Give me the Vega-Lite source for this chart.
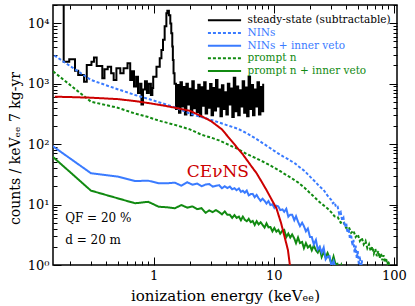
{
  "$schema": "https://vega.github.io/schema/vega-lite/v6.json",
  "width": 344,
  "height": 260,
  "autosize": {"type": "none"},
  "padding": {"left": 53, "top": 5, "right": 18, "bottom": 41},
  "config": {
    "view": {"stroke": "black", "strokeWidth": 1.5},
    "font": "DejaVu Serif",
    "legend": {"orient": "none", "legendX": 153, "legendY": 10, "direction": "vertical", "title": null,
      "symbolType": "M-1,0H9", "symbolSize": 44, "symbolStrokeWidth": 2,
      "labelFont": "DejaVu Serif", "labelFontSize": 10.5, "labelOffset": 31, "rowPadding": 1.7}
  },
  "datasets": {
    "black": [
      {"series":"steady-state (subtractable)","E":0.170,"C":100000},
      {"series":"steady-state (subtractable)","E":0.178,"C":2300},
      {"series":"steady-state (subtractable)","E":0.198,"C":2530},
      {"series":"steady-state (subtractable)","E":0.221,"C":1640},
      {"series":"steady-state (subtractable)","E":0.235,"C":1390},
      {"series":"steady-state (subtractable)","E":0.263,"C":1080},
      {"series":"steady-state (subtractable)","E":0.277,"C":2035},
      {"series":"steady-state (subtractable)","E":0.303,"C":2300},
      {"series":"steady-state (subtractable)","E":0.318,"C":2720},
      {"series":"steady-state (subtractable)","E":0.335,"C":1960},
      {"series":"steady-state (subtractable)","E":0.373,"C":1230},
      {"series":"steady-state (subtractable)","E":0.389,"C":1730},
      {"series":"steady-state (subtractable)","E":0.414,"C":1910},
      {"series":"steady-state (subtractable)","E":0.442,"C":1480},
      {"series":"steady-state (subtractable)","E":0.464,"C":1150},
      {"series":"steady-state (subtractable)","E":0.489,"C":1790},
      {"series":"steady-state (subtractable)","E":0.527,"C":1480},
      {"series":"steady-state (subtractable)","E":0.561,"C":1790},
      {"series":"steady-state (subtractable)","E":0.605,"C":2170},
      {"series":"steady-state (subtractable)","E":0.637,"C":1150},
      {"series":"steady-state (subtractable)","E":0.660,"C":1600},
      {"series":"steady-state (subtractable)","E":0.685,"C":900},
      {"series":"steady-state (subtractable)","E":0.713,"C":1300},
      {"series":"steady-state (subtractable)","E":0.740,"C":700},
      {"series":"steady-state (subtractable)","E":0.770,"C":1000},
      {"series":"steady-state (subtractable)","E":0.790,"C":450},
      {"series":"steady-state (subtractable)","E":0.814,"C":800},
      {"series":"steady-state (subtractable)","E":0.845,"C":1100},
      {"series":"steady-state (subtractable)","E":0.877,"C":700},
      {"series":"steady-state (subtractable)","E":0.910,"C":1000},
      {"series":"steady-state (subtractable)","E":0.947,"C":650},
      {"series":"steady-state (subtractable)","E":0.974,"C":850},
      {"series":"steady-state (subtractable)","E":0.990,"C":1300},
      {"series":"steady-state (subtractable)","E":1.054,"C":1900},
      {"series":"steady-state (subtractable)","E":1.122,"C":2640},
      {"series":"steady-state (subtractable)","E":1.159,"C":3600},
      {"series":"steady-state (subtractable)","E":1.195,"C":5300},
      {"series":"steady-state (subtractable)","E":1.233,"C":8900},
      {"series":"steady-state (subtractable)","E":1.274,"C":14600},
      {"series":"steady-state (subtractable)","E":1.298,"C":16100},
      {"series":"steady-state (subtractable)","E":1.338,"C":13600},
      {"series":"steady-state (subtractable)","E":1.374,"C":9900},
      {"series":"steady-state (subtractable)","E":1.400,"C":6800},
      {"series":"steady-state (subtractable)","E":1.427,"C":4100},
      {"series":"steady-state (subtractable)","E":1.443,"C":2460},
      {"series":"steady-state (subtractable)","E":1.462,"C":1480},
      {"series":"steady-state (subtractable)","E":1.490,"C":1000},
      {"series":"steady-state (subtractable)","E":1.533,"C":380},
      {"series":"steady-state (subtractable)","E":1.577,"C":950},
      {"series":"steady-state (subtractable)","E":1.623,"C":330},
      {"series":"steady-state (subtractable)","E":1.669,"C":1050},
      {"series":"steady-state (subtractable)","E":1.717,"C":420},
      {"series":"steady-state (subtractable)","E":1.767,"C":880},
      {"series":"steady-state (subtractable)","E":1.818,"C":310},
      {"series":"steady-state (subtractable)","E":1.870,"C":1000},
      {"series":"steady-state (subtractable)","E":1.924,"C":450},
      {"series":"steady-state (subtractable)","E":1.979,"C":820},
      {"series":"steady-state (subtractable)","E":2.036,"C":300},
      {"series":"steady-state (subtractable)","E":2.095,"C":1100},
      {"series":"steady-state (subtractable)","E":2.155,"C":390},
      {"series":"steady-state (subtractable)","E":2.217,"C":780},
      {"series":"steady-state (subtractable)","E":2.281,"C":340},
      {"series":"steady-state (subtractable)","E":2.347,"C":960},
      {"series":"steady-state (subtractable)","E":2.414,"C":290},
      {"series":"steady-state (subtractable)","E":2.484,"C":870},
      {"series":"steady-state (subtractable)","E":2.555,"C":430},
      {"series":"steady-state (subtractable)","E":2.629,"C":1050},
      {"series":"steady-state (subtractable)","E":2.705,"C":320},
      {"series":"steady-state (subtractable)","E":2.783,"C":760},
      {"series":"steady-state (subtractable)","E":2.863,"C":400},
      {"series":"steady-state (subtractable)","E":2.945,"C":990},
      {"series":"steady-state (subtractable)","E":3.030,"C":300},
      {"series":"steady-state (subtractable)","E":3.117,"C":850},
      {"series":"steady-state (subtractable)","E":3.207,"C":360},
      {"series":"steady-state (subtractable)","E":3.300,"C":1150},
      {"series":"steady-state (subtractable)","E":3.395,"C":420},
      {"series":"steady-state (subtractable)","E":3.492,"C":800},
      {"series":"steady-state (subtractable)","E":3.593,"C":290},
      {"series":"steady-state (subtractable)","E":3.696,"C":940},
      {"series":"steady-state (subtractable)","E":3.803,"C":380},
      {"series":"steady-state (subtractable)","E":3.912,"C":720},
      {"series":"steady-state (subtractable)","E":4.025,"C":310},
      {"series":"steady-state (subtractable)","E":4.141,"C":1000},
      {"series":"steady-state (subtractable)","E":4.260,"C":450},
      {"series":"steady-state (subtractable)","E":4.383,"C":830},
      {"series":"steady-state (subtractable)","E":4.509,"C":280},
      {"series":"steady-state (subtractable)","E":4.639,"C":1250},
      {"series":"steady-state (subtractable)","E":4.772,"C":350},
      {"series":"steady-state (subtractable)","E":4.910,"C":900},
      {"series":"steady-state (subtractable)","E":5.051,"C":300},
      {"series":"steady-state (subtractable)","E":5.197,"C":780},
      {"series":"steady-state (subtractable)","E":5.346,"C":420},
      {"series":"steady-state (subtractable)","E":5.500,"C":1100},
      {"series":"steady-state (subtractable)","E":5.659,"C":330},
      {"series":"steady-state (subtractable)","E":5.822,"C":860},
      {"series":"steady-state (subtractable)","E":5.990,"C":290},
      {"series":"steady-state (subtractable)","E":6.162,"C":1300},
      {"series":"steady-state (subtractable)","E":6.340,"C":380},
      {"series":"steady-state (subtractable)","E":6.522,"C":950},
      {"series":"steady-state (subtractable)","E":6.710,"C":300},
      {"series":"steady-state (subtractable)","E":6.903,"C":800},
      {"series":"steady-state (subtractable)","E":7.102,"C":420},
      {"series":"steady-state (subtractable)","E":7.306,"C":1050},
      {"series":"steady-state (subtractable)","E":7.517,"C":310},
      {"series":"steady-state (subtractable)","E":7.733,"C":880},
      {"series":"steady-state (subtractable)","E":7.956,"C":350},
      {"series":"steady-state (subtractable)","E":8.150,"C":1000}
    ],
    "curves": [
      {"series":"prompt n + inner veto","E":0.1,"C":118},
      {"series":"prompt n + inner veto","E":0.3,"C":17},
      {"series":"prompt n + inner veto","E":0.5,"C":12.7},
      {"series":"prompt n + inner veto","E":0.7,"C":10.5},
      {"series":"prompt n + inner veto","E":0.9,"C":11.1},
      {"series":"prompt n + inner veto","E":1.1,"C":9.2},
      {"series":"prompt n + inner veto","E":1.3,"C":9.0},
      {"series":"prompt n + inner veto","E":1.5,"C":8.7},
      {"series":"prompt n + inner veto","E":1.7,"C":9.8},
      {"series":"prompt n + inner veto","E":1.9,"C":8.9},
      {"series":"prompt n + inner veto","E":2.1,"C":9.3},
      {"series":"prompt n + inner veto","E":2.3,"C":8.4},
      {"series":"prompt n + inner veto","E":2.5,"C":8.7},
      {"series":"prompt n + inner veto","E":2.7,"C":7.3},
      {"series":"prompt n + inner veto","E":2.9,"C":8.0},
      {"series":"prompt n + inner veto","E":3.1,"C":7.5},
      {"series":"prompt n + inner veto","E":3.3,"C":8.1},
      {"series":"prompt n + inner veto","E":3.5,"C":7.5},
      {"series":"prompt n + inner veto","E":3.7,"C":6.9},
      {"series":"prompt n + inner veto","E":3.9,"C":7.7},
      {"series":"prompt n + inner veto","E":4.1,"C":6.8},
      {"series":"prompt n + inner veto","E":4.3,"C":6.8},
      {"series":"prompt n + inner veto","E":4.5,"C":6.0},
      {"series":"prompt n + inner veto","E":4.7,"C":6.7},
      {"series":"prompt n + inner veto","E":4.9,"C":6.0},
      {"series":"prompt n + inner veto","E":5.12,"C":6.3},
      {"series":"prompt n + inner veto","E":5.32,"C":5.5},
      {"series":"prompt n + inner veto","E":5.52,"C":6.3},
      {"series":"prompt n + inner veto","E":5.73,"C":5.6},
      {"series":"prompt n + inner veto","E":5.95,"C":5.3},
      {"series":"prompt n + inner veto","E":6.18,"C":5.8},
      {"series":"prompt n + inner veto","E":6.42,"C":5.1},
      {"series":"prompt n + inner veto","E":6.67,"C":5.35},
      {"series":"prompt n + inner veto","E":6.93,"C":4.6},
      {"series":"prompt n + inner veto","E":7.19,"C":5.3},
      {"series":"prompt n + inner veto","E":7.47,"C":4.7},
      {"series":"prompt n + inner veto","E":7.76,"C":5.1},
      {"series":"prompt n + inner veto","E":8.06,"C":4.6},
      {"series":"prompt n + inner veto","E":8.37,"C":4.15},
      {"series":"prompt n + inner veto","E":8.69,"C":4.9},
      {"series":"prompt n + inner veto","E":9.02,"C":4.2},
      {"series":"prompt n + inner veto","E":9.37,"C":4.25},
      {"series":"prompt n + inner veto","E":9.73,"C":3.6},
      {"series":"prompt n + inner veto","E":10.1,"C":4.1},
      {"series":"prompt n + inner veto","E":10.5,"C":3.55},
      {"series":"prompt n + inner veto","E":10.9,"C":3.8},
      {"series":"prompt n + inner veto","E":11.3,"C":3.3},
      {"series":"prompt n + inner veto","E":11.8,"C":3.7},
      {"series":"prompt n + inner veto","E":12.2,"C":3.8},
      {"series":"prompt n + inner veto","E":12.7,"C":2.9},
      {"series":"prompt n + inner veto","E":13.2,"C":3.3},
      {"series":"prompt n + inner veto","E":13.7,"C":2.85},
      {"series":"prompt n + inner veto","E":14.2,"C":3.2},
      {"series":"prompt n + inner veto","E":14.8,"C":2.75},
      {"series":"prompt n + inner veto","E":15.3,"C":2.3},
      {"series":"prompt n + inner veto","E":15.9,"C":2.85},
      {"series":"prompt n + inner veto","E":16.5,"C":2.3},
      {"series":"prompt n + inner veto","E":17.2,"C":2.4},
      {"series":"prompt n + inner veto","E":17.8,"C":1.9},
      {"series":"prompt n + inner veto","E":18.5,"C":2.3},
      {"series":"prompt n + inner veto","E":19.2,"C":1.95},
      {"series":"prompt n + inner veto","E":20.0,"C":2.1},
      {"series":"prompt n + inner veto","E":20.7,"C":1.75},
      {"series":"prompt n + inner veto","E":21.5,"C":2.1},
      {"series":"prompt n + inner veto","E":22.4,"C":1.75},
      {"series":"prompt n + inner veto","E":23.2,"C":1.6},
      {"series":"prompt n + inner veto","E":24.1,"C":1.9},
      {"series":"prompt n + inner veto","E":25.0,"C":1.36},
      {"series":"prompt n + inner veto","E":26.0,"C":1.63},
      {"series":"prompt n + inner veto","E":27.0,"C":1.34},
      {"series":"prompt n + inner veto","E":28.0,"C":1.58},
      {"series":"prompt n + inner veto","E":29.1,"C":1.3},
      {"series":"prompt n + inner veto","E":30.2,"C":1.05},
      {"series":"prompt n + inner veto","E":31.4,"C":1.38},
      {"series":"prompt n + inner veto","E":32.6,"C":1.03},
      {"series":"prompt n + inner veto","E":33.8,"C":1.05},
      {"series":"prompt n + inner veto","E":35.1,"C":0.76},
      {"series":"prompt n + inner veto","E":36.5,"C":1.0},
      {"series":"prompt n + inner veto","E":38.0,"C":0.79},
      {"series":"prompt n + inner veto","E":39.5,"C":0.88},
      {"series":"prompt n + inner veto","E":41.0,"C":0.67},
      {"series":"prompt n + inner veto","E":42.5,"C":0.85},

      {"series":"NINs + inner veto","E":0.1,"C":155},
      {"series":"NINs + inner veto","E":0.3,"C":33},
      {"series":"NINs + inner veto","E":0.5,"C":29},
      {"series":"NINs + inner veto","E":0.7,"C":24.5},
      {"series":"NINs + inner veto","E":0.9,"C":24.8},
      {"series":"NINs + inner veto","E":1.1,"C":22.5},
      {"series":"NINs + inner veto","E":1.3,"C":22.5},
      {"series":"NINs + inner veto","E":1.5,"C":23},
      {"series":"NINs + inner veto","E":1.7,"C":20.5},
      {"series":"NINs + inner veto","E":1.9,"C":23.4},
      {"series":"NINs + inner veto","E":2.1,"C":21.3},
      {"series":"NINs + inner veto","E":2.3,"C":22.2},
      {"series":"NINs + inner veto","E":2.5,"C":20.1},
      {"series":"NINs + inner veto","E":2.7,"C":21.4},
      {"series":"NINs + inner veto","E":2.9,"C":21.8},
      {"series":"NINs + inner veto","E":3.1,"C":19.8},
      {"series":"NINs + inner veto","E":3.3,"C":20.4},
      {"series":"NINs + inner veto","E":3.5,"C":20.9},
      {"series":"NINs + inner veto","E":3.7,"C":18.6},
      {"series":"NINs + inner veto","E":3.9,"C":20.1},
      {"series":"NINs + inner veto","E":4.1,"C":18.8},
      {"series":"NINs + inner veto","E":4.3,"C":19.8},
      {"series":"NINs + inner veto","E":4.5,"C":17.9},
      {"series":"NINs + inner veto","E":4.7,"C":18.6},
      {"series":"NINs + inner veto","E":4.9,"C":17.3},
      {"series":"NINs + inner veto","E":5.12,"C":18.4},
      {"series":"NINs + inner veto","E":5.32,"C":16.2},
      {"series":"NINs + inner veto","E":5.52,"C":16.9},
      {"series":"NINs + inner veto","E":5.73,"C":15.7},
      {"series":"NINs + inner veto","E":5.95,"C":17.0},
      {"series":"NINs + inner veto","E":6.18,"C":14.2},
      {"series":"NINs + inner veto","E":6.42,"C":14.9},
      {"series":"NINs + inner veto","E":6.67,"C":15.0},
      {"series":"NINs + inner veto","E":6.93,"C":13.2},
      {"series":"NINs + inner veto","E":7.19,"C":14.4},
      {"series":"NINs + inner veto","E":7.47,"C":12.7},
      {"series":"NINs + inner veto","E":7.76,"C":11.5},
      {"series":"NINs + inner veto","E":8.06,"C":12.5},
      {"series":"NINs + inner veto","E":8.37,"C":11.5},
      {"series":"NINs + inner veto","E":8.69,"C":10.4},
      {"series":"NINs + inner veto","E":9.02,"C":11.4},
      {"series":"NINs + inner veto","E":9.37,"C":9.8},
      {"series":"NINs + inner veto","E":9.73,"C":10.1},
      {"series":"NINs + inner veto","E":10.1,"C":8.8},
      {"series":"NINs + inner veto","E":10.5,"C":9.6},
      {"series":"NINs + inner veto","E":10.9,"C":9.3},
      {"series":"NINs + inner veto","E":11.3,"C":8.1},
      {"series":"NINs + inner veto","E":11.8,"C":8.3},
      {"series":"NINs + inner veto","E":12.2,"C":7.6},
      {"series":"NINs + inner veto","E":12.7,"C":8.5},
      {"series":"NINs + inner veto","E":13.2,"C":6.3},
      {"series":"NINs + inner veto","E":13.7,"C":6.8},
      {"series":"NINs + inner veto","E":14.2,"C":6.8},
      {"series":"NINs + inner veto","E":14.8,"C":5.5},
      {"series":"NINs + inner veto","E":15.3,"C":6.4},
      {"series":"NINs + inner veto","E":15.9,"C":5.2},
      {"series":"NINs + inner veto","E":16.5,"C":4.4},
      {"series":"NINs + inner veto","E":17.2,"C":5.0},
      {"series":"NINs + inner veto","E":17.8,"C":4.4},
      {"series":"NINs + inner veto","E":18.5,"C":3.6},
      {"series":"NINs + inner veto","E":19.2,"C":4.0},
      {"series":"NINs + inner veto","E":20.0,"C":2.9},
      {"series":"NINs + inner veto","E":20.7,"C":2.9},
      {"series":"NINs + inner veto","E":21.5,"C":2.2},
      {"series":"NINs + inner veto","E":22.4,"C":2.6},
      {"series":"NINs + inner veto","E":23.2,"C":1.8},
      {"series":"NINs + inner veto","E":24.1,"C":2.0},
      {"series":"NINs + inner veto","E":25.0,"C":1.6},
      {"series":"NINs + inner veto","E":26.0,"C":1.95},
      {"series":"NINs + inner veto","E":27.0,"C":1.24},
      {"series":"NINs + inner veto","E":28.0,"C":1.37},
      {"series":"NINs + inner veto","E":29.1,"C":1.4},
      {"series":"NINs + inner veto","E":30.2,"C":0.95},
      {"series":"NINs + inner veto","E":31.4,"C":1.17},
      {"series":"NINs + inner veto","E":32.6,"C":0.9},
      {"series":"NINs + inner veto","E":33.8,"C":0.7},
      {"series":"NINs + inner veto","E":35.1,"C":0.9},

      {"series":"prompt n","E":0.1,"C":2900},
      {"series":"prompt n","E":0.3,"C":503},
      {"series":"prompt n","E":0.5,"C":400},
      {"series":"prompt n","E":0.7,"C":320},
      {"series":"prompt n","E":0.9,"C":280},
      {"series":"prompt n","E":1.1,"C":245},
      {"series":"prompt n","E":1.5,"C":208},
      {"series":"prompt n","E":2.0,"C":175},
      {"series":"prompt n","E":2.5,"C":143},
      {"series":"prompt n","E":3.0,"C":128},
      {"series":"prompt n","E":3.5,"C":115},
      {"series":"prompt n","E":4.0,"C":102},
      {"series":"prompt n","E":5.0,"C":83},
      {"series":"prompt n","E":6.0,"C":68},
      {"series":"prompt n","E":7.0,"C":59},
      {"series":"prompt n","E":8.0,"C":52},
      {"series":"prompt n","E":9.0,"C":46},
      {"series":"prompt n","E":10,"C":41},
      {"series":"prompt n","E":11,"C":37},
      {"series":"prompt n","E":12,"C":33},
      {"series":"prompt n","E":13,"C":30},
      {"series":"prompt n","E":14,"C":27.5},
      {"series":"prompt n","E":15,"C":25},
      {"series":"prompt n","E":16,"C":23},
      {"series":"prompt n","E":18,"C":19},
      {"series":"prompt n","E":20,"C":15.5},
      {"series":"prompt n","E":22,"C":13},
      {"series":"prompt n","E":24,"C":11},
      {"series":"prompt n","E":26,"C":9.7},
      {"series":"prompt n","E":28,"C":8.6},
      {"series":"prompt n","E":30,"C":7.5},
      {"series":"prompt n","E":32,"C":6.4},
      {"series":"prompt n","E":34,"C":6.2},
      {"series":"prompt n","E":36,"C":5.0},
      {"series":"prompt n","E":38,"C":5.2},
      {"series":"prompt n","E":40,"C":4.1},
      {"series":"prompt n","E":42,"C":4.3},
      {"series":"prompt n","E":44,"C":3.4},
      {"series":"prompt n","E":46,"C":3.7},
      {"series":"prompt n","E":48,"C":2.9},
      {"series":"prompt n","E":50,"C":3.2},
      {"series":"prompt n","E":52,"C":2.5},
      {"series":"prompt n","E":54,"C":2.8},
      {"series":"prompt n","E":56,"C":2.2},
      {"series":"prompt n","E":58,"C":2.5},
      {"series":"prompt n","E":60,"C":1.9},
      {"series":"prompt n","E":62,"C":2.2},
      {"series":"prompt n","E":64,"C":1.7},
      {"series":"prompt n","E":66,"C":2.0},
      {"series":"prompt n","E":68,"C":1.55},
      {"series":"prompt n","E":70,"C":1.85},
      {"series":"prompt n","E":72,"C":1.4},
      {"series":"prompt n","E":74,"C":1.7},
      {"series":"prompt n","E":76,"C":1.3},
      {"series":"prompt n","E":78,"C":1.55},
      {"series":"prompt n","E":80,"C":1.2},
      {"series":"prompt n","E":82,"C":1.45},
      {"series":"prompt n","E":84,"C":1.1},
      {"series":"prompt n","E":86,"C":1.3},
      {"series":"prompt n","E":88,"C":1.0},
      {"series":"prompt n","E":90,"C":1.15},
      {"series":"prompt n","E":92,"C":0.9},

      {"series":"NINs","E":0.1,"C":4970},
      {"series":"NINs","E":0.3,"C":1150},
      {"series":"NINs","E":0.5,"C":810},
      {"series":"NINs","E":0.7,"C":650},
      {"series":"NINs","E":0.9,"C":560},
      {"series":"NINs","E":1.1,"C":495},
      {"series":"NINs","E":1.5,"C":405},
      {"series":"NINs","E":2.0,"C":320},
      {"series":"NINs","E":2.5,"C":280},
      {"series":"NINs","E":3.0,"C":252},
      {"series":"NINs","E":3.5,"C":228},
      {"series":"NINs","E":4.0,"C":208},
      {"series":"NINs","E":5.0,"C":180},
      {"series":"NINs","E":6.0,"C":150},
      {"series":"NINs","E":7.0,"C":125},
      {"series":"NINs","E":8.0,"C":105},
      {"series":"NINs","E":9.0,"C":90},
      {"series":"NINs","E":10,"C":78},
      {"series":"NINs","E":11,"C":69},
      {"series":"NINs","E":12,"C":62},
      {"series":"NINs","E":13,"C":57},
      {"series":"NINs","E":14,"C":52},
      {"series":"NINs","E":15,"C":48},
      {"series":"NINs","E":16,"C":43},
      {"series":"NINs","E":18,"C":36},
      {"series":"NINs","E":20,"C":29},
      {"series":"NINs","E":22,"C":24},
      {"series":"NINs","E":24,"C":20},
      {"series":"NINs","E":26,"C":17.4},
      {"series":"NINs","E":28,"C":14},
      {"series":"NINs","E":30,"C":12},
      {"series":"NINs","E":31,"C":10.5},
      {"series":"NINs","E":32,"C":11},
      {"series":"NINs","E":33,"C":9},
      {"series":"NINs","E":34,"C":9.2},
      {"series":"NINs","E":35,"C":7},
      {"series":"NINs","E":36,"C":7.5},
      {"series":"NINs","E":37,"C":5.5},
      {"series":"NINs","E":38,"C":6},
      {"series":"NINs","E":39,"C":4.3},
      {"series":"NINs","E":40,"C":5},
      {"series":"NINs","E":41,"C":3.4},
      {"series":"NINs","E":42,"C":4},
      {"series":"NINs","E":43,"C":2.7},
      {"series":"NINs","E":44,"C":3.2},
      {"series":"NINs","E":45,"C":2.1},
      {"series":"NINs","E":46,"C":2.6},
      {"series":"NINs","E":47,"C":1.6},
      {"series":"NINs","E":48,"C":2.1},
      {"series":"NINs","E":49,"C":1.3},
      {"series":"NINs","E":50,"C":1.7},
      {"series":"NINs","E":51,"C":1.0},
      {"series":"NINs","E":52,"C":1.4},
      {"series":"NINs","E":53,"C":0.85},
      {"series":"NINs","E":54,"C":1.2},
      {"series":"NINs","E":55,"C":0.7},

      {"series":"CEvNS","E":0.15,"C":608},
      {"series":"CEvNS","E":0.2,"C":600},
      {"series":"CEvNS","E":0.3,"C":586},
      {"series":"CEvNS","E":0.5,"C":555},
      {"series":"CEvNS","E":0.7,"C":515},
      {"series":"CEvNS","E":0.93,"C":473},
      {"series":"CEvNS","E":1.2,"C":435},
      {"series":"CEvNS","E":1.5,"C":400},
      {"series":"CEvNS","E":2.0,"C":355},
      {"series":"CEvNS","E":2.54,"C":285},
      {"series":"CEvNS","E":3.0,"C":240},
      {"series":"CEvNS","E":3.7,"C":175},
      {"series":"CEvNS","E":4.0,"C":145},
      {"series":"CEvNS","E":4.62,"C":103},
      {"series":"CEvNS","E":5.08,"C":82},
      {"series":"CEvNS","E":5.5,"C":68},
      {"series":"CEvNS","E":5.95,"C":55},
      {"series":"CEvNS","E":6.5,"C":43},
      {"series":"CEvNS","E":7.18,"C":33},
      {"series":"CEvNS","E":8.0,"C":23},
      {"series":"CEvNS","E":8.68,"C":17.4},
      {"series":"CEvNS","E":9.5,"C":12.5},
      {"series":"CEvNS","E":10.5,"C":8.7},
      {"series":"CEvNS","E":11.5,"C":4.9},
      {"series":"CEvNS","E":12.3,"C":2.9},
      {"series":"CEvNS","E":13.1,"C":1.77},
      {"series":"CEvNS","E":13.6,"C":1.0},
      {"series":"CEvNS","E":14.0,"C":0.7}
    ]
  },
  "resolve": {"axis": {"x": "independent", "y": "independent"}},
  "layer": [
    {
      "data": {"name": "black"},
      "mark": {"type": "line", "interpolate": "step-after", "strokeWidth": 2, "clip": true},
      "encoding": {
        "x": {"field": "E", "type": "quantitative",
          "scale": {"type": "log", "domain": [0.145, 106], "nice": false},
          "axis": {"orient": "bottom", "title": "ionization energy (keVₑₑ)",
            "values": [0.2,0.3,0.4,0.5,0.6,0.7,0.8,0.9,1,2,3,4,5,6,7,8,9,10,20,30,40,50,60,70,80,90,100],
            "labelExpr": "datum.value == 1 ? '1' : datum.value == 10 ? '10' : datum.value == 100 ? '100' : ''",
            "labelOverlap": false, "labelFlush": false, "grid": false, "domain": false,
            "tickSize": {"condition": {"test": "abs(log(datum.value)/LN10 - round(log(datum.value)/LN10)) < 0.001", "value": -8}, "value": -4},
            "tickColor": "black", "labelColor": "black", "titleColor": "black",
            "labelFont": "DejaVu Serif", "labelFontSize": 13, "labelPadding": 12,
            "titleFont": "DejaVu Serif", "titleFontSize": 15, "titleFontWeight": "normal", "titlePadding": 2}},
        "y": {"field": "C", "type": "quantitative",
          "scale": {"type": "log", "domain": [1, 20000], "nice": false},
          "axis": {"orient": "left", "title": "counts / keVₑₑ 7 kg-yr", "titleY": 143,
            "values": [1,2,3,4,5,6,7,8,9,10,20,30,40,50,60,70,80,90,100,200,300,400,500,600,700,800,900,1000,2000,3000,4000,5000,6000,7000,8000,9000,10000,20000],
            "labelExpr": "datum.value == 1 ? '10⁰' : datum.value == 10 ? '10¹' : datum.value == 100 ? '10²' : datum.value == 1000 ? '10³' : datum.value == 10000 ? '10⁴' : ''",
            "labelOverlap": false, "labelFlush": false, "grid": false, "domain": false,
            "tickSize": {"condition": {"test": "abs(log(datum.value)/LN10 - round(log(datum.value)/LN10)) < 0.001", "value": -8}, "value": -4},
            "tickColor": "black", "labelColor": "black", "titleColor": "black",
            "labelFont": "DejaVu Serif", "labelFontSize": 13, "labelPadding": 12,
            "titleFont": "DejaVu Serif", "titleFontSize": 14, "titleFontWeight": "normal", "titlePadding": 5}},
        "color": {"field": "series", "type": "nominal",
          "scale": {"domain": ["steady-state (subtractable)","NINs","NINs + inner veto","prompt n","prompt n + inner veto","CEvNS"],
                    "range": ["#000000","#3a7bff","#3a7bff","#118a11","#118a11","#cc0000"]},
          "legend": {"zindex": 1,
            "values": ["steady-state (subtractable)","NINs","NINs + inner veto","prompt n","prompt n + inner veto"],
            "encode": {"labels": {"update": {"fill": {"signal": "datum.value == 'NINs' || datum.value == 'NINs + inner veto' ? '#3a7bff' : (datum.value == 'prompt n' || datum.value == 'prompt n + inner veto') ? '#118a11' : 'black'"}}}}}},
        "strokeDash": {"field": "series", "type": "nominal",
          "scale": {"domain": ["steady-state (subtractable)","NINs","NINs + inner veto","prompt n","prompt n + inner veto","CEvNS"],
                    "range": [[1,0],[3,2],[1,0],[3,2],[1,0],[1,0]]},
          "legend": {"zindex": 1,
            "values": ["steady-state (subtractable)","NINs","NINs + inner veto","prompt n","prompt n + inner veto"],
            "encode": {"labels": {"update": {"fill": {"signal": "datum.value == 'NINs' || datum.value == 'NINs + inner veto' ? '#3a7bff' : (datum.value == 'prompt n' || datum.value == 'prompt n + inner veto') ? '#118a11' : 'black'"}}}}}}
      }
    },
    {
      "data": {"name": "curves"},
      "mark": {"type": "line", "strokeWidth": 2, "clip": true},
      "encoding": {
        "x": {"field": "E", "type": "quantitative",
          "scale": {"type": "log", "domain": [0.145, 106], "nice": false},
          "axis": {"orient": "top", "title": null, "labels": false,
            "values": [0.2,0.3,0.4,0.5,0.6,0.7,0.8,0.9,1,2,3,4,5,6,7,8,9,10,20,30,40,50,60,70,80,90,100],
            "grid": false, "domain": false, "tickColor": "black",
            "tickSize": {"condition": {"test": "abs(log(datum.value)/LN10 - round(log(datum.value)/LN10)) < 0.001", "value": -8}, "value": -4}}},
        "y": {"field": "C", "type": "quantitative",
          "scale": {"type": "log", "domain": [1, 20000], "nice": false},
          "axis": {"orient": "right", "title": null, "labels": false,
            "values": [1,2,3,4,5,6,7,8,9,10,20,30,40,50,60,70,80,90,100,200,300,400,500,600,700,800,900,1000,2000,3000,4000,5000,6000,7000,8000,9000,10000,20000],
            "grid": false, "domain": false, "tickColor": "black",
            "tickSize": {"condition": {"test": "abs(log(datum.value)/LN10 - round(log(datum.value)/LN10)) < 0.001", "value": -8}, "value": -4}}},
        "color": {"field": "series", "type": "nominal",
          "scale": {"domain": ["steady-state (subtractable)","NINs","NINs + inner veto","prompt n","prompt n + inner veto","CEvNS"],
                    "range": ["#000000","#3a7bff","#3a7bff","#118a11","#118a11","#cc0000"]},
          "legend": {"zindex": 1,
            "values": ["steady-state (subtractable)","NINs","NINs + inner veto","prompt n","prompt n + inner veto"],
            "encode": {"labels": {"update": {"fill": {"signal": "datum.value == 'NINs' || datum.value == 'NINs + inner veto' ? '#3a7bff' : (datum.value == 'prompt n' || datum.value == 'prompt n + inner veto') ? '#118a11' : 'black'"}}}}}},
        "strokeDash": {"field": "series", "type": "nominal",
          "scale": {"domain": ["steady-state (subtractable)","NINs","NINs + inner veto","prompt n","prompt n + inner veto","CEvNS"],
                    "range": [[1,0],[3,2],[1,0],[3,2],[1,0],[1,0]]},
          "legend": {"zindex": 1,
            "values": ["steady-state (subtractable)","NINs","NINs + inner veto","prompt n","prompt n + inner veto"],
            "encode": {"labels": {"update": {"fill": {"signal": "datum.value == 'NINs' || datum.value == 'NINs + inner veto' ? '#3a7bff' : (datum.value == 'prompt n' || datum.value == 'prompt n + inner veto') ? '#118a11' : 'black'"}}}}}}
      }
    },
    {
      "data": {"values": [{"t": "CEνNS"}]},
      "mark": {"type": "text", "font": "DejaVu Serif", "fontSize": 17, "color": "#cc0000", "align": "center", "baseline": "middle"},
      "encoding": {
        "x": {"datum": 3.42, "type": "quantitative", "axis": null},
        "y": {"datum": 34.5, "type": "quantitative", "axis": null},
        "text": {"field": "t"}
      }
    },
    {
      "data": {"values": [{"t": "QF = 20 %"}]},
      "mark": {"type": "text", "font": "DejaVu Serif", "fontSize": 12, "color": "black", "align": "left", "baseline": "middle"},
      "encoding": {
        "x": {"datum": 0.183, "type": "quantitative", "axis": null},
        "y": {"datum": 6.0, "type": "quantitative", "axis": null},
        "text": {"field": "t"}
      }
    },
    {
      "data": {"values": [{"t": "d = 20 m"}]},
      "mark": {"type": "text", "font": "DejaVu Serif", "fontSize": 12, "color": "black", "align": "left", "baseline": "middle"},
      "encoding": {
        "x": {"datum": 0.183, "type": "quantitative", "axis": null},
        "y": {"datum": 2.59, "type": "quantitative", "axis": null},
        "text": {"field": "t"}
      }
    }
  ]
}
